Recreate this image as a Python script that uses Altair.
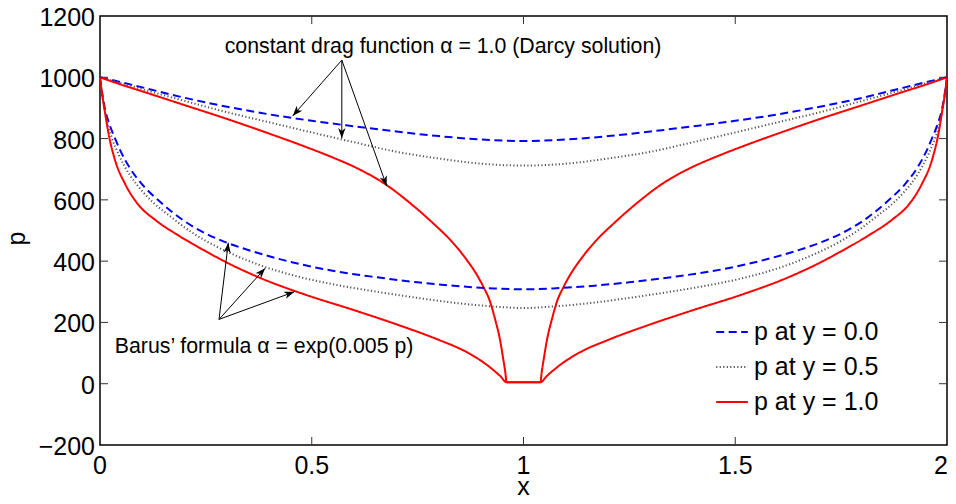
import math
import altair as alt
import pandas as pd

# ---------------- data ----------------
LEG = ["p at y = 0.0", "p at y = 0.5", "p at y = 1.0"]

# constant drag (Darcy) curves
x_up = [0, 0.05, 0.1, 0.2, 0.3, 0.4, 0.5, 0.6, 0.7, 0.8, 0.9, 1.0,
        1.1, 1.2, 1.3, 1.4, 1.5, 1.6, 1.7, 1.8, 1.9, 1.95, 2.0]
blue_up = [1000, 984, 967, 933, 904, 879, 858, 840, 823, 808, 797, 792,
           797, 808, 823, 840, 858, 879, 904, 933, 967, 984, 1000]
gray_up = [1000, 981, 961, 923, 886, 853, 820, 788, 757, 735, 718, 712,
           718, 735, 757, 788, 820, 853, 886, 923, 961, 981, 1000]

x_red_up = [0, 0.05, 0.1, 0.2, 0.3, 0.4, 0.472, 0.55, 0.6, 0.677, 0.73, 0.787, 0.83,
            0.866, 0.89, 0.905, 0.921, 0.933, 0.945, 0.952, 0.957, 0.96, 1.0,
            1.04, 1.043, 1.048, 1.055, 1.067, 1.079, 1.095, 1.11, 1.134, 1.17,
            1.213, 1.27, 1.323, 1.4, 1.45, 1.528, 1.6, 1.7, 1.8, 1.9, 1.95, 2.0]
red_up = [1000, 976, 954, 909, 864, 816, 780, 738, 708, 648, 592, 523, 465,
          404, 355, 317, 268, 210, 140, 82, 38, 5, 5,
          5, 38, 82, 140, 210, 268, 317, 355, 404, 465,
          523, 592, 648, 708, 738, 780, 816, 864, 909, 954, 976, 1000]

# Barus formula curves
x_blue_lo = [0, 0.005, 0.012, 0.022, 0.035, 0.05, 0.07, 0.1, 0.145, 0.2, 0.25,
             0.3, 0.36, 0.415, 0.476, 0.56, 0.65, 0.75, 0.85, 0.93, 1.0,
             1.07, 1.15, 1.25, 1.35, 1.44, 1.524, 1.585, 1.64, 1.7, 1.75, 1.8,
             1.855, 1.9, 1.93, 1.95, 1.965, 1.978, 1.988, 1.995, 2.0]
blue_lo = [1000, 950, 895, 848, 802, 755, 705, 650, 590, 530, 490,
           460, 432, 410, 389, 366, 348, 331, 318, 311, 308,
           311, 318, 331, 348, 366, 389, 410, 432, 460, 490, 530,
           590, 650, 705, 755, 802, 848, 895, 950, 1000]

x_gray_lo = [0, 0.005, 0.012, 0.02, 0.028, 0.045, 0.07, 0.1, 0.125, 0.17, 0.2,
             0.25, 0.3, 0.39, 0.472, 0.56, 0.65, 0.75, 0.85, 0.93, 1.0,
             1.07, 1.15, 1.25, 1.35, 1.44, 1.528, 1.61, 1.7, 1.75, 1.8, 1.83,
             1.875, 1.9, 1.93, 1.955, 1.972, 1.98, 1.988, 1.995, 2.0]
gray_lo = [1000, 945, 885, 838, 802, 745, 682, 628, 592, 542, 510,
           466, 431, 381, 348, 322, 301, 280, 262, 252, 247,
           252, 262, 280, 301, 322, 348, 381, 431, 466, 510, 542,
           592, 628, 682, 745, 802, 838, 885, 945, 1000]

x_red_lo = [0, 0.005, 0.011, 0.021, 0.035, 0.06, 0.09, 0.13, 0.185, 0.25,
            0.3, 0.382, 0.484, 0.6, 0.708, 0.8, 0.866, 0.913, 0.945, 0.96, 1.0,
            1.04, 1.055, 1.087, 1.134, 1.2, 1.292, 1.4, 1.516, 1.618, 1.7,
            1.75, 1.815, 1.87, 1.91, 1.94, 1.965, 1.979, 1.989, 1.995, 2.0]
red_lo = [1000, 945, 892, 810, 732, 650, 585, 535, 484, 432,
          395, 343, 291, 240, 190, 143, 103, 62, 25, 5, 5,
          5, 25, 62, 103, 143, 190, 240, 291, 343, 395,
          432, 484, 535, 585, 650, 732, 810, 892, 945, 1000]

# annotation arrows (start -> tip)
arr_x1 = [0.571, 0.571, 0.571, 0.281, 0.281, 0.281]
arr_p1 = [1056, 1056, 1056, 210, 210, 210]
arr_x2 = [0.455, 0.571, 0.677, 0.303, 0.390, 0.459]
arr_p2 = [874, 801, 645, 460, 377, 300]

ann_text = ["constant drag function \u03b1 = 1.0 (Darcy solution)",
            "Barus\u2019 formula \u03b1 = exp(0.005 p)"]
ann_x = [0.81, 0.035]
ann_p = [1078, 100]

x_ticks = [0, 0.5, 1, 1.5, 2]
x_tick_labels = ["0", "0.5", "1", "1.5", "2"]
y_ticks = [-200, 0, 200, 400, 600, 800, 1000, 1200]
y_tick_labels = ["\u2212200", "0", "200", "400", "600", "800", "1000", "1200"]
x_title = "x"
y_title = "p"

# ---------------- chart ----------------
W, H = 847, 429
XDOM, YDOM = [0, 2], [-200, 1200]
FONT = "Liberation Sans"
FS = 25

rows = []
series_list = [
    (LEG[0], "up", x_up, blue_up),
    (LEG[1], "up", x_up, gray_up),
    (LEG[2], "up", x_red_up, red_up),
    (LEG[0], "lo", x_blue_lo, blue_lo),
    (LEG[1], "lo", x_gray_lo, gray_lo),
    (LEG[2], "lo", x_red_lo, red_lo),
]
for s, g, xl, pl in series_list:
    for i, (xv, pv) in enumerate(zip(xl, pl)):
        rows.append({"x": xv, "p": pv, "series": s, "group": s + g, "i": i})
df = pd.DataFrame(rows)

xs = alt.Scale(domain=XDOM, nice=False, zero=False)
ys = alt.Scale(domain=YDOM, nice=False, zero=False)

lines = alt.Chart(df).mark_line(strokeWidth=2, interpolate="monotone").encode(
    x=alt.X("x:Q", scale=xs, axis=None),
    y=alt.Y("p:Q", scale=ys, axis=None),
    color=alt.Color("series:N", title=None,
                    scale=alt.Scale(domain=LEG, range=["#0000ff", "#555555", "#ff0000"]),
                    legend=alt.Legend(orient="none", legendX=615, legendY=299)),
    strokeDash=alt.StrokeDash("series:N", title=None,
                              scale=alt.Scale(domain=LEG, range=[[8, 4.5], [1.2, 2.3], [1, 0]]),
                              legend=alt.Legend(orient="none", legendX=615, legendY=299)),
    detail="group:N",
    order="i:Q",
)

# arrows
PX_X = W / (XDOM[1] - XDOM[0])
PX_P = H / (YDOM[1] - YDOM[0])
angles = []
for a, b, c, d in zip(arr_x1, arr_p1, arr_x2, arr_p2):
    dx = (c - a) * PX_X
    dy = -(d - b) * PX_P
    angles.append(math.degrees(math.atan2(dx, -dy)) % 360)
adf = pd.DataFrame({"x1": arr_x1, "p1": arr_p1, "x2": arr_x2, "p2": arr_p2, "ang": angles})

arrow_lines = alt.Chart(adf).mark_rule(color="black", strokeWidth=1).encode(
    x=alt.X("x1:Q", scale=xs, axis=None), y=alt.Y("p1:Q", scale=ys, axis=None),
    x2="x2:Q", y2="p2:Q")
HEAD = "M0,0 L-0.36,1 L0,0.72 L0.36,1 Z"
arrow_heads = alt.Chart(adf).mark_point(shape=HEAD, filled=True, color="black",
                                        opacity=1, size=420, strokeWidth=0.5).encode(
    x=alt.X("x2:Q", scale=xs, axis=None), y=alt.Y("p2:Q", scale=ys, axis=None),
    angle=alt.Angle("ang:Q", scale=None))

tdf = pd.DataFrame({"t": ann_text, "x": ann_x, "p": ann_p})
text1 = alt.Chart(tdf.iloc[[0]]).mark_text(align="center", baseline="alphabetic",
                                           fontSize=21.3, font=FONT, color="black").encode(
    x=alt.X("x:Q", scale=xs, axis=None), y=alt.Y("p:Q", scale=ys, axis=None), text="t:N")
text2 = alt.Chart(tdf.iloc[[1]]).mark_text(align="left", baseline="alphabetic",
                                           fontSize=21.3, font=FONT, color="black").encode(
    x=alt.X("x:Q", scale=xs, axis=None), y=alt.Y("p:Q", scale=ys, axis=None), text="t:N")

# inward ticks on all four sides
ydf = pd.DataFrame({"v": y_ticks[1:-1]})
xdf = pd.DataFrame({"v": x_ticks[1:-1]})
TC = "#333333"
lt = alt.Chart(ydf).mark_rule(color=TC).encode(
    y=alt.Y("v:Q", scale=ys, axis=None), x=alt.value(0), x2=alt.value(8))
rt = alt.Chart(ydf).mark_rule(color=TC).encode(
    y=alt.Y("v:Q", scale=ys, axis=None), x=alt.value(W - 8), x2=alt.value(W))
bt = alt.Chart(xdf).mark_rule(color=TC).encode(
    x=alt.X("v:Q", scale=xs, axis=None), y=alt.value(H - 8), y2=alt.value(H))
tt = alt.Chart(xdf).mark_rule(color=TC).encode(
    x=alt.X("v:Q", scale=xs, axis=None), y=alt.value(0), y2=alt.value(8))

# tick labels and axis titles
xl_df = pd.DataFrame({"v": x_ticks, "t": x_tick_labels})
yl_df = pd.DataFrame({"v": y_ticks, "t": y_tick_labels})
xlab = alt.Chart(xl_df.iloc[:-1]).mark_text(align="center", baseline="top", fontSize=FS,
                                            font=FONT, color="black").encode(
    x=alt.X("v:Q", scale=xs, axis=None), y=alt.value(H + 9), text="t:N")
xlab_last = alt.Chart(xl_df.iloc[[-1]]).mark_text(align="right", baseline="top", fontSize=FS,
                                                  font=FONT, color="black", dx=1).encode(
    x=alt.X("v:Q", scale=xs, axis=None), y=alt.value(H + 9), text="t:N")
ylab = alt.Chart(yl_df).mark_text(align="right", baseline="middle", fontSize=FS,
                                  font=FONT, color="black", dy=2).encode(
    y=alt.Y("v:Q", scale=ys, axis=None), x=alt.value(-5), text="t:N")
ttl_df = pd.DataFrame({"tx": [x_title], "ty": [y_title]})
xtitle = alt.Chart(ttl_df).mark_text(align="center", baseline="alphabetic", fontSize=FS,
                                     font=FONT, color="black").encode(
    x=alt.value(W / 2), y=alt.value(H + 50), text="tx:N")
ytitle = alt.Chart(ttl_df).mark_text(align="center", baseline="middle", fontSize=FS,
                                     font=FONT, color="black", angle=270).encode(
    x=alt.value(-83), y=alt.value(H / 2 + 8), text="ty:N")

chart = alt.layer(lines, lt, rt, bt, tt, arrow_lines, arrow_heads, text1, text2,
                  xlab, xlab_last, ylab, xtitle, ytitle).properties(
    width=W, height=H,
    autosize=alt.AutoSizeParams(type="none"),
    padding={"left": 92, "top": 8, "right": 1, "bottom": 51},
).configure_view(stroke="black", strokeWidth=1.5).configure_legend(
    labelFont=FONT, labelFontSize=FS, labelColor="black", symbolType="stroke",
    symbolSize=1000, symbolStrokeWidth=2, labelOffset=5, rowPadding=5, padding=0,
)

chart.save("out.html", embed_options={"renderer": "svg", "actions": False})
